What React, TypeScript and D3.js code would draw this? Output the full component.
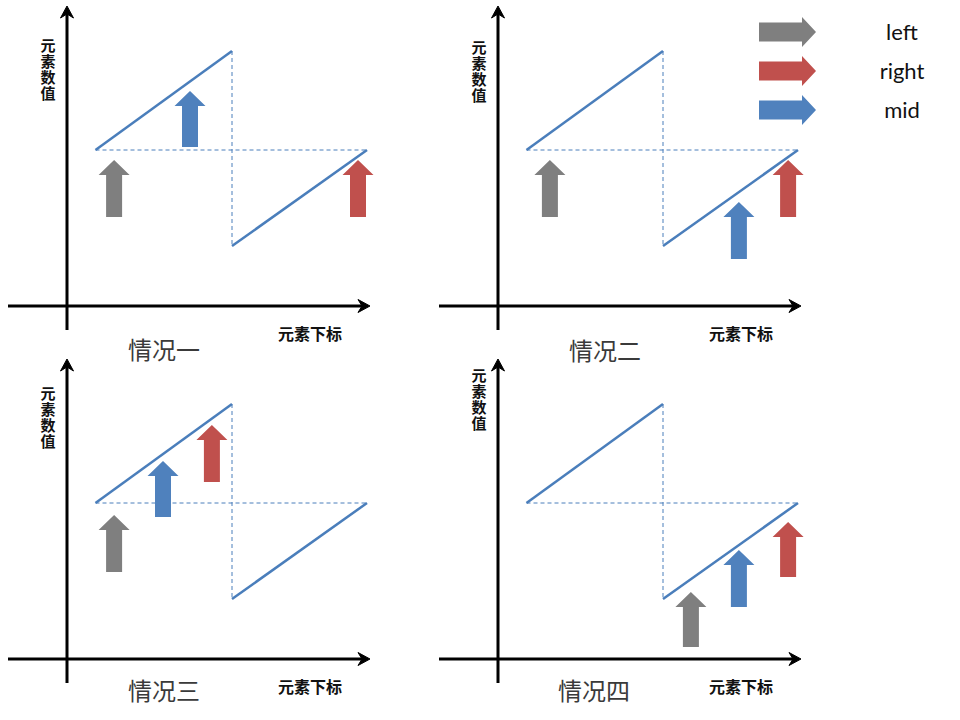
import React from "react";
import * as d3 from "d3";

// ---- data (schematic units: index 0..100 along x, value 0..100 along y) ----
const panelNames = ["情况一", "情况二", "情况三", "情况四"];
const upperIndex = [9.5, 55];
const upperValue = [52, 85];
const lowerIndex = [55, 100];
const lowerValue = [20, 52];

const leftIndex = [15.7, 17.3, 15.7, 64.3];
const leftTip = [48.7, 48.7, 48, 22.3];
const leftBase = [29.7, 29.7, 29, 4];

const midIndex = [41, 80.3, 32, 80.3];
const midTip = [71.7, 34.7, 66, 36.3];
const midBase = [53, 15.7, 47.3, 17.3];

const rightIndex = [97, 96.7, 48.3, 96.7];
const rightTip = [48.7, 48.7, 78, 45.7];
const rightBase = [29.7, 29.7, 59, 27.3];

const legendLabels = ["left", "right", "mid"];
const xAxisLabel = "元素下标";
const yAxisLabel = "元素数值";

// ---- layout ----
const panels = [
  { ox: 67, oy: 306, nameX: 164, nameY: 359, yLabTop: 38 },
  { ox: 498, oy: 306, nameX: 605, nameY: 360, yLabTop: 40 },
  { ox: 67, oy: 659, nameX: 164, nameY: 700, yLabTop: 386 },
  { ox: 498, oy: 659, nameX: 594, nameY: 700, yLabTop: 368 },
];

const GRAY = "#7f7f7f";
const RED = "#c0504d";
const BLUE = "#4f81bd";
const LINE = "#4a7ebb";

function upArrow(cx: number, tipY: number, baseY: number) {
  const bw = 8, hw = 15.5, hl = 15;
  return `M${cx},${tipY} L${cx + hw},${tipY + hl} L${cx + bw},${tipY + hl} L${cx + bw},${baseY} L${cx - bw},${baseY} L${cx - bw},${tipY + hl} L${cx - hw},${tipY + hl} Z`;
}

function rightArrow(x0: number, x1: number, cy: number) {
  const bh = 9.5, hh = 15, hl = 14;
  return `M${x1},${cy} L${x1 - hl},${cy - hh} L${x1 - hl},${cy - bh} L${x0},${cy - bh} L${x0},${cy + bh} L${x1 - hl},${cy + bh} L${x1 - hl},${cy + hh} Z`;
}

function Panel({ p, k }: { p: typeof panels[number]; k: number }) {
  const x = d3.scaleLinear().domain([0, 100]).range([p.ox, p.ox + 300]);
  const y = d3.scaleLinear().domain([0, 100]).range([p.oy, p.oy - 300]);
  const line = d3.line<[number, number]>().x((d) => x(d[0])).y((d) => y(d[1]));
  const upper: [number, number][] = upperIndex.map((v, i) => [v, upperValue[i]]);
  const lower: [number, number][] = lowerIndex.map((v, i) => [v, lowerValue[i]]);
  const hDash: [number, number][] = [[upperIndex[0], upperValue[0]], [lowerIndex[1], lowerValue[1]]];
  const vDash: [number, number][] = [[upperIndex[1], upperValue[1]], [lowerIndex[0], lowerValue[0]]];

  const xTip = x(101);
  const yTip = y(100);
  const ax = p.ox - 59;
  return (
    <g>
      {/* axes */}
      <line x1={ax} y1={p.oy} x2={xTip - 6} y2={p.oy} stroke="#000" strokeWidth={3} />
      <path d={`M${xTip},${p.oy} L${xTip - 12},${p.oy - 6.5} L${xTip - 8},${p.oy} L${xTip - 12},${p.oy + 6.5} Z`} fill="#000" stroke="#000" strokeWidth={1} strokeLinejoin="round" />
      <line x1={p.ox} y1={p.oy + 24} x2={p.ox} y2={yTip + 6} stroke="#000" strokeWidth={3} />
      <path d={`M${p.ox},${yTip} L${p.ox - 6.5},${yTip + 12} L${p.ox},${yTip + 8} L${p.ox + 6.5},${yTip + 12} Z`} fill="#000" stroke="#000" strokeWidth={1} strokeLinejoin="round" />

      {/* dashed guides */}
      <path d={line(hDash) || ""} stroke={LINE} strokeWidth={1} strokeDasharray="4,3" fill="none" />
      <path d={line(vDash) || ""} stroke={LINE} strokeWidth={1} strokeDasharray="4,3" fill="none" />
      {/* rotated array segments */}
      <path d={line(upper) || ""} stroke={LINE} strokeWidth={2.5} fill="none" />
      <path d={line(lower) || ""} stroke={LINE} strokeWidth={2.5} fill="none" />

      {/* pointers */}
      <path d={upArrow(x(leftIndex[k]), y(leftTip[k]), y(leftBase[k]))} fill={GRAY} />
      <path d={upArrow(x(midIndex[k]), y(midTip[k]), y(midBase[k]))} fill={BLUE} />
      <path d={upArrow(x(rightIndex[k]), y(rightTip[k]), y(rightBase[k]))} fill={RED} />

      {/* labels */}
      <text x={p.ox + 211} y={p.oy + 34} fontSize={16} fontWeight={700} fill="#111" fontFamily="'Noto Sans CJK SC', sans-serif">{xAxisLabel}</text>
      <text
        x={p.ox - 19}
        y={p.yLabTop}
        fontSize={15}
        fontWeight={700}
        fill="#111"
        letterSpacing={1}
        fontFamily="'Noto Sans CJK SC', sans-serif"
        style={{ writingMode: "vertical-rl" as any }}
      >
        {yAxisLabel}
      </text>
      <text x={p.nameX} y={p.nameY} textAnchor="middle" fontSize={24} fontWeight={400} fill="#3a3a3a" fontFamily="'Noto Sans CJK SC', sans-serif">{panelNames[k]}</text>
    </g>
  );
}

export default function App() {
  const legendColors = [GRAY, RED, BLUE];
  const ly = d3.scalePoint<string>().domain(legendLabels).range([32, 110]);
  return (
    <svg width={960} height={720} style={{ position: "absolute", left: 0, top: 0, background: "#fff" }}>
      <rect width={960} height={720} fill="#fff" />
      {panels.map((p, k) => (
        <Panel key={k} p={p} k={k} />
      ))}
      {legendLabels.map((l, i) => (
        <g key={l}>
          <path d={rightArrow(759, 816, ly(l) as number)} fill={legendColors[i]} />
          <text x={902} y={(ly(l) as number) + 8} textAnchor="middle" fontSize={22} fill="#111" fontFamily="Lato, 'Open Sans', sans-serif">{l}</text>
        </g>
      ))}
    </svg>
  );
}
